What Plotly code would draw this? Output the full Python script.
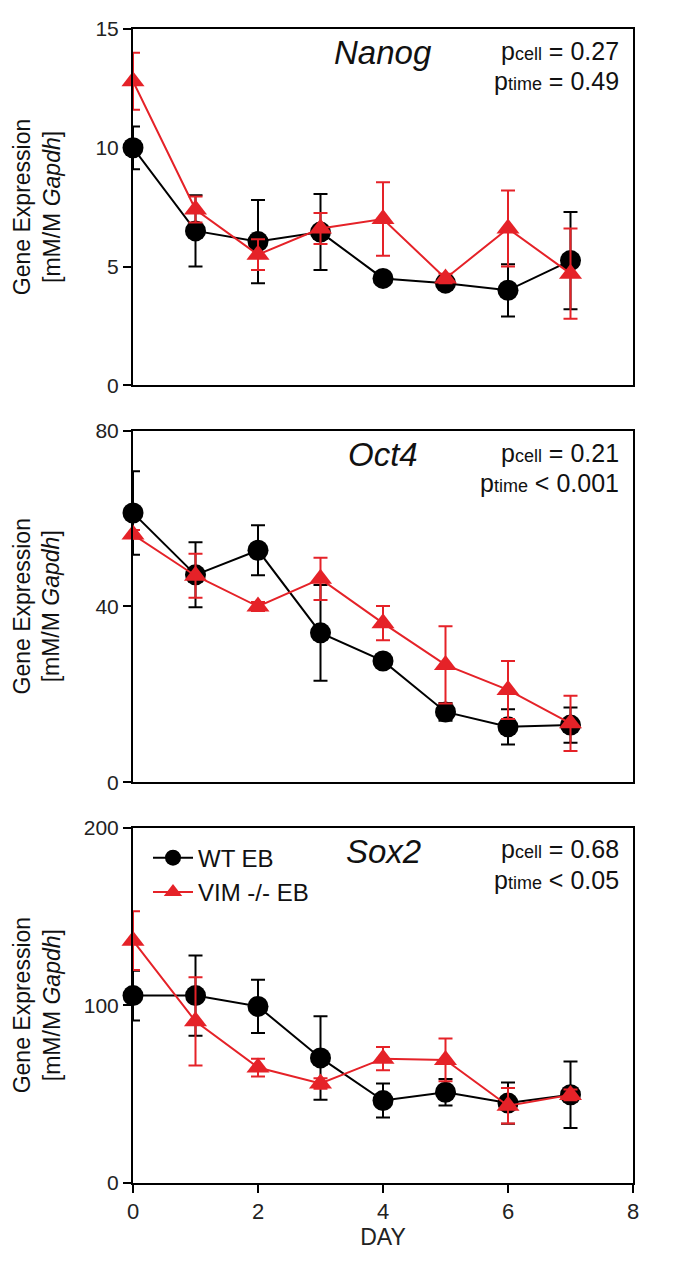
import plotly.graph_objects as go
from plotly.subplots import make_subplots

days = [0, 1, 2, 3, 4, 5, 6, 7]

genes = ["Nanog", "Oct4", "Sox2"]
p_cell = ["p<span style='font-size:18px'>cell</span> = 0.27",
          "p<span style='font-size:18px'>cell</span> = 0.21",
          "p<span style='font-size:18px'>cell</span> = 0.68"]
p_time = ["p<span style='font-size:18px'>time</span> = 0.49",
          "p<span style='font-size:18px'>time</span> < 0.001",
          "p<span style='font-size:18px'>time</span> < 0.05"]

nanog_wt = [10.0, 6.5, 6.05, 6.45, 4.5, 4.3, 4.0, 5.25]
nanog_wt_err = [0.9, 1.5, 1.75, 1.6, 0.15, 0.15, 1.1, 2.05]
nanog_ko = [12.8, 7.4, 5.5, 6.6, 7.0, 4.5, 6.6, 4.7]
nanog_ko_err = [1.2, 0.55, 0.65, 0.65, 1.55, 0.2, 1.6, 1.9]

oct4_wt = [61.3, 47.2, 52.8, 34.0, 27.6, 16.0, 12.6, 13.0]
oct4_wt_err = [9.5, 7.4, 5.7, 10.9, 1.0, 2.0, 4.0, 4.0]
oct4_ko = [56.4, 47.0, 40.0, 46.3, 36.2, 26.7, 21.0, 13.4]
oct4_ko_err = [1.0, 5.0, 1.0, 4.8, 3.9, 8.8, 6.6, 6.3]

sox2_wt = [105.5, 105.5, 99.4, 70.4, 46.4, 51.1, 45.0, 49.7]
sox2_wt_err = [14.0, 22.6, 15.0, 23.5, 9.6, 7.5, 11.6, 18.7]
sox2_ko = [136.4, 91.0, 65.0, 56.0, 70.0, 69.3, 43.5, 49.6]
sox2_ko_err = [16.5, 24.8, 5.0, 3.0, 6.5, 12.0, 10.0, 3.0]

wt_series = [nanog_wt, oct4_wt, sox2_wt]
wt_errs = [nanog_wt_err, oct4_wt_err, sox2_wt_err]
ko_series = [nanog_ko, oct4_ko, sox2_ko]
ko_errs = [nanog_ko_err, oct4_ko_err, sox2_ko_err]

y_ranges = [[0, 15], [0, 80], [0, 200]]
y_ticks = [[0, 5, 10, 15], [0, 40, 80], [0, 100, 200]]
x_ticks = [0, 2, 4, 6, 8]

BLACK = "#000000"
RED = "#e52228"
FONT = "Liberation Sans, Arial, sans-serif"

# pixel geometry (page has an 8px body margin)
W, H = 677, 1253
top_m, bot_m = 9, 78
plot_h = H - top_m - bot_m
panels_px = [(9, 369), (415, 770), (816, 1175)]
domains = [[(1175 - b) / plot_h, (1175 - t) / plot_h] for t, b in panels_px]

fig = make_subplots(rows=3, cols=1)

for i in range(3):
    r = i + 1
    fig.add_trace(go.Scatter(
        x=days, y=wt_series[i], mode="lines+markers", name="WT EB",
        line=dict(color=BLACK, width=2),
        marker=dict(symbol="circle", size=21, color=BLACK),
        error_y=dict(type="data", array=wt_errs[i], color=BLACK, thickness=2, width=7),
        cliponaxis=False, showlegend=(i == 2), legendgroup="wt",
    ), row=r, col=1)
    fig.add_trace(go.Scatter(
        x=days, y=ko_series[i], mode="lines+markers", name="VIM -/- EB",
        line=dict(color=RED, width=2),
        marker=dict(symbol="triangle-up", size=20, color=RED),
        error_y=dict(type="data", array=ko_errs[i], color=RED, thickness=2, width=7),
        cliponaxis=False, showlegend=(i == 2), legendgroup="ko",
    ), row=r, col=1)

    xa = "xaxis" if r == 1 else f"xaxis{r}"
    ya = "yaxis" if r == 1 else f"yaxis{r}"
    last = (r == 3)
    fig.layout[xa].update(
        range=[0, 8], domain=[0, 1], showgrid=False, zeroline=False,
        showline=True, linecolor=BLACK, linewidth=2, mirror=True,
        ticks="outside" if last else "", ticklen=8, tickwidth=2, tickcolor=BLACK,
        tickvals=x_ticks, showticklabels=last,
        tickfont=dict(family=FONT, size=22, color="#222"),
    )
    if last:
        fig.layout[xa].update(title=dict(text="DAY", font=dict(family=FONT, size=23, color="#222"), standoff=4))
    fig.layout[ya].update(
        range=y_ranges[i], domain=domains[i], showgrid=False, zeroline=False,
        showline=True, linecolor=BLACK, linewidth=2, mirror=True,
        ticks="outside", ticklen=8, tickwidth=2, tickcolor=BLACK,
        tickvals=y_ticks[i], ticktext=[str(v) for v in y_ticks[i]],
        tickfont=dict(family=FONT, size=21, color="#222"),
    )

    ph = panels_px[i][1] - panels_px[i][0]
    xref = "x domain" if r == 1 else f"x{r} domain"
    yref = "y domain" if r == 1 else f"y{r} domain"
    fig.add_annotation(text=f"<i>{genes[i]}</i>", xref=xref, yref=yref,
                       x=0.5, y=1 - 24 / ph, xanchor="center", yanchor="middle",
                       showarrow=False, font=dict(family=FONT, size=33, color="#111"))
    fig.add_annotation(text=p_cell[i], xref=xref, yref=yref,
                       x=0.975, y=1 - 22 / ph, xanchor="right", yanchor="middle",
                       showarrow=False, font=dict(family=FONT, size=25, color="#111"))
    fig.add_annotation(text=p_time[i], xref=xref, yref=yref,
                       x=0.975, y=1 - 53 / ph, xanchor="right", yanchor="middle",
                       showarrow=False, font=dict(family=FONT, size=25, color="#111"))
    # y-axis title
    yc = (domains[i][0] + domains[i][1]) / 2
    fig.add_annotation(text="Gene Expression<br>[mM/M <i>Gapdh</i>]", xref="paper", yref="paper",
                       x=(29 - 125) / 500, y=yc, xanchor="center", yanchor="middle", textangle=-90,
                       showarrow=False, font=dict(family=FONT, size=23, color="#111"))

fig.update_layout(
    width=W, height=H,
    margin=dict(l=125, r=52, t=top_m, b=bot_m),
    paper_bgcolor="white", plot_bgcolor="white",
    font=dict(family=FONT),
    legend=dict(x=0.03, y=(1175 - 824) / plot_h, xanchor="left", yanchor="top", bgcolor="rgba(0,0,0,0)",
                font=dict(family=FONT, size=24, color="#111"), tracegroupgap=0,
                itemwidth=40),
)

fig.write_html("out.html")
